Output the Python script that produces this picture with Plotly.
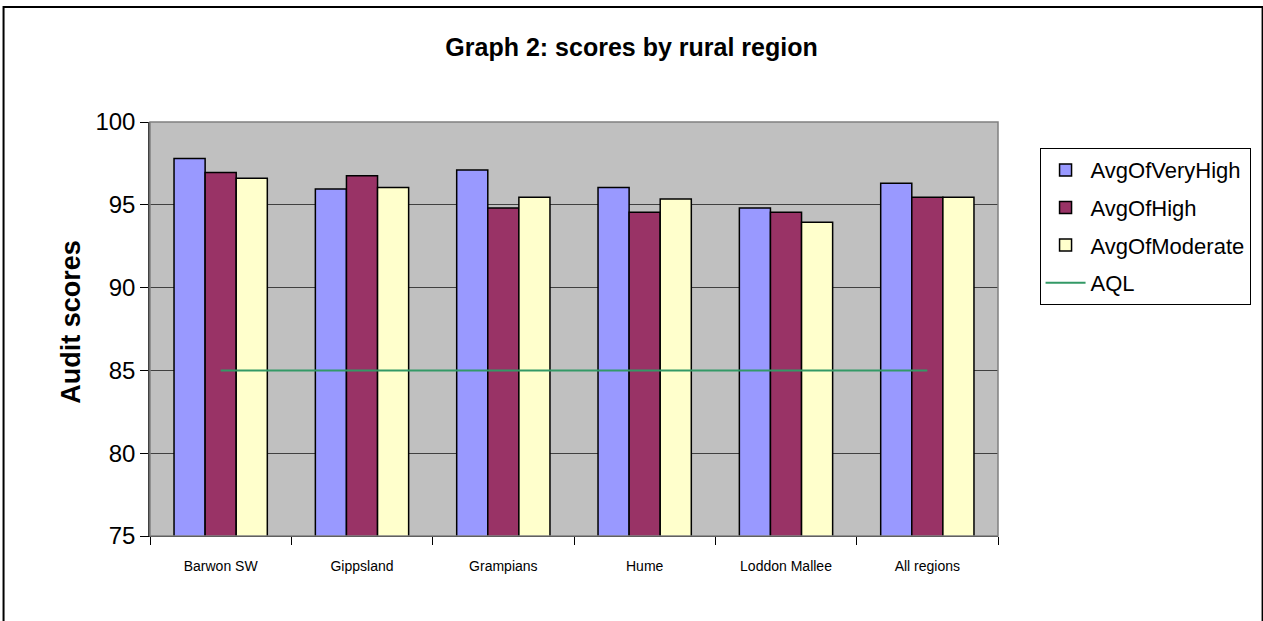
## Graph 2: audit scores by rural region
import plotly.graph_objects as go

## the data
regions = ["Barwon SW", "Gippsland", "Grampians", "Hume", "Loddon Mallee", "All regions"]
avg_very_high = [97.8, 95.95, 97.1, 96.05, 94.8, 96.3]
avg_high = [96.95, 96.75, 94.8, 94.55, 94.55, 95.45]
avg_moderate = [96.6, 96.05, 95.45, 95.35, 93.95, 95.45]
aql = [85, 85, 85, 85, 85, 85]
y_ticks = [75, 80, 85, 90, 95, 100]

font_name = "Liberation Sans, Arial, sans-serif"

fig = go.Figure()
## the bars, excel style colours
for name, vals, col in [("AvgOfVeryHigh", avg_very_high, "#9999FF"),
                        ("AvgOfHigh", avg_high, "#993366"),
                        ("AvgOfModerate", avg_moderate, "#FFFFCC")]:
    fig.add_trace(go.Bar(x=regions, y=vals, name=name, legendgroup=name,
                         marker=dict(color=col, line=dict(color="black", width=1.5))))
## the AQL line on top
fig.add_trace(go.Scatter(x=regions, y=aql, name="AQL", mode="lines", legendgroup="AQL",
                         line=dict(color="#339966", width=2)))

fig.update_layout(
    width=1263, height=621,
    margin=dict(l=150, r=262, t=122, b=85),
    paper_bgcolor="white", plot_bgcolor="#C0C0C0",
    font=dict(family=font_name, color="black"),
    barmode="group", bargap=0.34, bargroupgap=0,
    title=dict(text="<b>Graph 2: scores by rural region</b>", x=0.5, xref="container",
               y=0.924, yanchor="middle", font=dict(size=25)),
    legend=dict(x=1.049, y=0.937, xanchor="left", yanchor="top",
                bordercolor="black", borderwidth=1, bgcolor="white",
                font=dict(size=22), traceorder="grouped", itemwidth=40,
                tracegroupgap=6),
    showlegend=True,
)
fig.update_xaxes(type="category", tickson="boundaries", ticks="outside", ticklen=8,
                 tickcolor="black", tickfont=dict(size=14), ticklabelstandoff=17,
                 showline=True, linecolor="black", linewidth=1, showgrid=False,
                 mirror=False)
fig.update_yaxes(range=[75, 100], tickvals=y_ticks, ticks="outside", ticklen=8,
                 tickcolor="black", tickfont=dict(size=24),
                 showline=True, linecolor="#404040", linewidth=1.5,
                 showgrid=True, gridcolor="#404040", gridwidth=1, zeroline=False)
## y axis title as an annotation so it sits where excel put it
fig.add_annotation(text="<b>Audit scores</b>", textangle=-90, xref="paper", yref="paper",
                   x=-0.094, y=0.518, xanchor="center", yanchor="middle",
                   showarrow=False, font=dict(size=27))
## plot area border top and right, and the chart frame
fig.add_shape(type="rect", xref="paper", yref="paper", x0=0, x1=1, y0=0, y1=1,
              line=dict(color="#808080", width=1.5), layer="above")
fig.add_shape(type="rect", xref="paper", yref="paper", x0=-0.1727, x1=1.312,
              y0=-0.2077, y1=1.2778, line=dict(color="black", width=2))

## the page body has a default margin, take it away
fig.write_html("out.html", config={"displayModeBar": False},
               post_script="document.body.style.margin='0';")
